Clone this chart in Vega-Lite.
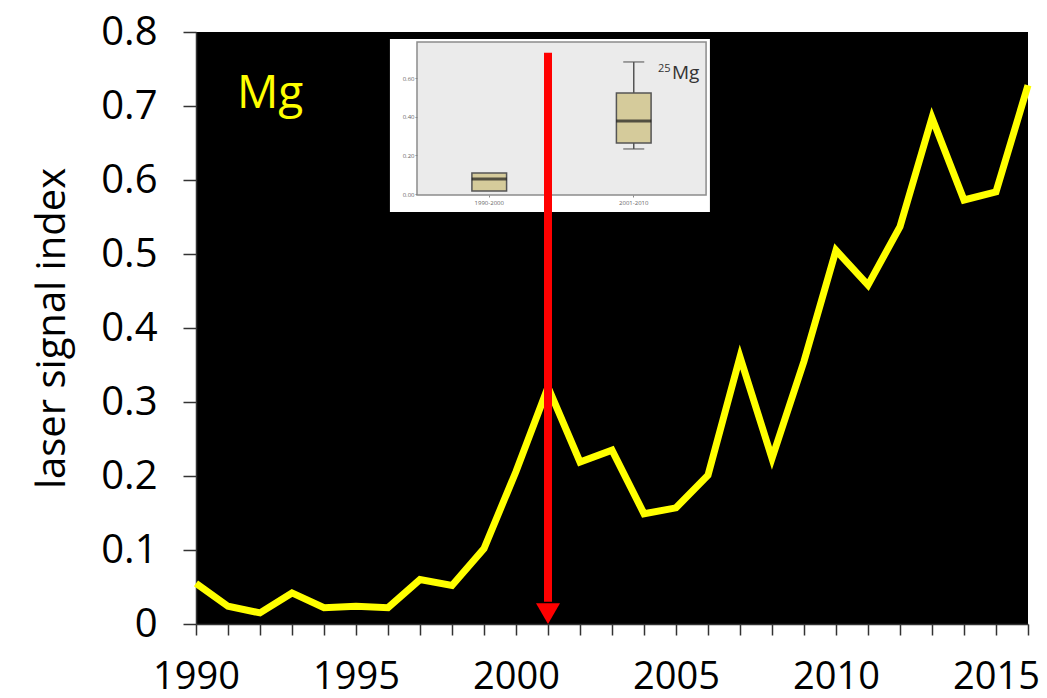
{
  "$schema": "https://vega.github.io/schema/vega-lite/v6.json",
  "width": 832,
  "height": 592,
  "autosize": "none",
  "padding": {"left": 196, "top": 32, "right": 19, "bottom": 74},
  "background": "white",
  "view": {"fill": "black", "stroke": null},
  "config": {
    "font": "Open Sans",
    "axis": {"labelFont": "Open Sans", "titleFont": "Open Sans", "labelColor": "black", "titleColor": "black", "domainColor": "#333", "tickColor": "#333", "grid": false}
  },
  "datasets": {
    "mg": [
      {"year": 1990, "index": 0.055},
      {"year": 1991, "index": 0.024},
      {"year": 1992, "index": 0.015},
      {"year": 1993, "index": 0.042},
      {"year": 1994, "index": 0.022},
      {"year": 1995, "index": 0.024},
      {"year": 1996, "index": 0.022},
      {"year": 1997, "index": 0.06},
      {"year": 1998, "index": 0.052},
      {"year": 1999, "index": 0.102},
      {"year": 2000, "index": 0.206},
      {"year": 2001, "index": 0.32},
      {"year": 2002, "index": 0.219},
      {"year": 2003, "index": 0.235},
      {"year": 2004, "index": 0.149},
      {"year": 2005, "index": 0.157},
      {"year": 2006, "index": 0.201},
      {"year": 2007, "index": 0.361},
      {"year": 2008, "index": 0.224},
      {"year": 2009, "index": 0.355},
      {"year": 2010, "index": 0.505},
      {"year": 2011, "index": 0.458},
      {"year": 2012, "index": 0.537},
      {"year": 2013, "index": 0.684},
      {"year": 2014, "index": 0.573},
      {"year": 2015, "index": 0.584},
      {"year": 2016, "index": 0.728}
    ],
    "box": [
      {"period": "1990-2000", "lo": 0.016, "q1": 0.016, "median": 0.078, "q3": 0.109, "hi": 0.109},
      {"period": "2001-2010", "lo": 0.233, "q1": 0.264, "median": 0.378, "q3": 0.522, "hi": 0.683}
    ]
  },
  "layer": [
    {
      "data": {"name": "mg"},
      "mark": {"type": "line", "color": "#ffff00", "strokeWidth": 7, "strokeJoin": "miter"},
      "encoding": {
        "x": {
          "field": "year", "type": "quantitative",
          "scale": {"domain": [1990, 2016], "nice": false, "zero": false},
          "axis": {
            "title": null,
            "values": [1990, 1991, 1992, 1993, 1994, 1995, 1996, 1997, 1998, 1999, 2000, 2001, 2002, 2003, 2004, 2005, 2006, 2007, 2008, 2009, 2010, 2011, 2012, 2013, 2014, 2015, 2016],
            "format": "d",
            "labelExpr": "datum.value % 5 === 0 ? datum.label : ''",
            "labelFontSize": 38,
            "labelPadding": 23,
            "labelOverlap": false,
            "labelFlush": false,
            "labelBound": false,
            "tickSize": 11,
            "tickWidth": 1.5,
            "domainWidth": 1.5
          }
        },
        "y": {
          "field": "index", "type": "quantitative",
          "scale": {"domain": [0, 0.8], "nice": false},
          "axis": {
            "title": "laser signal index",
            "titleFontSize": 40,
            "titleFontWeight": "normal",
            "titleAngle": -90,
            "titleBaseline": "middle",
            "titleAlign": "center",
            "titleX": -144,
            "titleY": 296,
            "values": [0, 0.1, 0.2, 0.3, 0.4, 0.5, 0.6, 0.7, 0.8],
            "format": ".1~f",
            "labelFontSize": 40,
            "labelPadding": 26,
            "tickSize": 13,
            "tickWidth": 1.5,
            "domainWidth": 1.5,
            "labelOverlap": false
          }
        }
      }
    },
    {
      "data": {"values": [{}]},
      "encoding": {
        "x": {"datum": 1996.06, "type": "quantitative", "scale": {"domain": [1990, 2016], "nice": false, "zero": false}, "axis": null},
        "y": {"datum": 0.7905, "type": "quantitative", "scale": {"domain": [0, 0.8], "nice": false}, "axis": null}
      },
      "layer": [
        {
          "mark": {"type": "rect", "fill": "white"},
          "encoding": {
            "x": {"datum": 1996.06, "type": "quantitative"},
            "x2": {"datum": 2006.06},
            "y": {"datum": 0.7905, "type": "quantitative"},
            "y2": {"datum": 0.5568}
          }
        },
        {
          "mark": {"type": "rect", "fill": "#ebebeb", "stroke": "#8c8c8c", "strokeWidth": 1.5},
          "encoding": {
            "x": {"datum": 1996.906, "type": "quantitative"},
            "x2": {"datum": 2005.94},
            "y": {"datum": 0.7865, "type": "quantitative"},
            "y2": {"datum": 0.5797}
          }
        },
        {
          "mark": {"type": "text", "text": "Mg", "color": "#ffff00", "font": "Liberation Sans Narrow, Open Sans", "fontSize": 46, "align": "left", "baseline": "alphabetic"},
          "encoding": {
            "x": {"datum": 1991.28, "type": "quantitative"},
            "y": {"datum": 0.697, "type": "quantitative"}
          }
        }
      ]
    },
    {
      "data": {"name": "box"},
      "encoding": {
        "x": {
          "field": "period", "type": "nominal", "sort": null,
          "scale": {"type": "band", "domain": ["1990-2000", "2001-2010"], "range": [221, 510], "paddingInner": 0, "paddingOuter": 0},
          "axis": {"orient": "bottom", "offset": -429, "zindex": 1, "title": null, "labelAngle": 0, "labelFontSize": 6, "labelColor": "#666", "tickSize": 2, "tickColor": "#888", "labelPadding": 2, "domain": false, "labelOverlap": false}
        }
      },
      "layer": [
        {
          "transform": [{"filter": "datum.hi > datum.q3"}],
          "mark": {"type": "rule", "color": "#555", "strokeWidth": 1.5},
          "encoding": {
            "y": {
              "field": "lo", "type": "quantitative",
              "scale": {"domain": [0, 0.6], "range": [162, 46], "nice": false, "zero": false},
              "axis": {"orient": "left", "offset": -221, "zindex": 1, "title": null, "values": [0, 0.2, 0.4, 0.6], "format": ".2f", "labelFontSize": 6, "labelColor": "#666", "tickSize": 2, "tickColor": "#888", "labelPadding": 1, "domain": false, "labelOverlap": false}
            },
            "y2": {"field": "hi"}
          }
        },
        {
          "transform": [{"filter": "datum.hi > datum.q3"}],
          "mark": {"type": "tick", "color": "#555", "size": 21, "thickness": 1.5},
          "encoding": {"y": {"field": "hi", "type": "quantitative"}}
        },
        {
          "transform": [{"filter": "datum.hi > datum.q3"}],
          "mark": {"type": "tick", "color": "#555", "size": 21, "thickness": 1.5},
          "encoding": {"y": {"field": "lo", "type": "quantitative"}}
        },
        {
          "mark": {"type": "bar", "fill": "#d5cb9b", "stroke": "#555", "strokeWidth": 1.5, "width": {"band": 0.24}},
          "encoding": {
            "y": {"field": "q1", "type": "quantitative"},
            "y2": {"field": "q3"}
          }
        },
        {
          "mark": {"type": "tick", "color": "#1a1a1a", "size": 35, "thickness": 3},
          "encoding": {"y": {"field": "median", "type": "quantitative"}}
        }
      ]
    },
    {
      "data": {"values": [{}]},
      "encoding": {
        "x": {"datum": 2001, "type": "quantitative", "scale": {"domain": [1990, 2016], "nice": false, "zero": false}, "axis": null},
        "y": {"datum": 0.014, "type": "quantitative", "scale": {"domain": [0, 0.8], "nice": false}, "axis": null}
      },
      "layer": [
        {
          "mark": {"type": "text", "text": "25", "color": "#333", "font": "Liberation Sans Narrow, Open Sans", "fontSize": 11, "align": "left", "baseline": "alphabetic"},
          "encoding": {
            "x": {"datum": 2004.44, "type": "quantitative"},
            "y": {"datum": 0.746, "type": "quantitative"}
          }
        },
        {
          "mark": {"type": "text", "text": "Mg", "color": "#333", "font": "Liberation Sans Narrow, Open Sans", "fontSize": 19, "align": "left", "baseline": "alphabetic"},
          "encoding": {
            "x": {"datum": 2004.875, "type": "quantitative"},
            "y": {"datum": 0.7365, "type": "quantitative"}
          }
        },
        {
          "mark": {"type": "rule", "color": "#ff0000", "strokeWidth": 8},
          "encoding": {
            "y": {"datum": 0.772, "type": "quantitative"},
            "y2": {"datum": 0.03}
          }
        },
        {
          "mark": {"type": "point", "shape": "triangle-down", "filled": true, "color": "#ff0000", "opacity": 1, "size": 576},
          "encoding": {
            "y": {"datum": 0.014, "type": "quantitative"}
          }
        }
      ]
    }
  ],
  "resolve": {"scale": {"x": "independent", "y": "independent"}}
}
